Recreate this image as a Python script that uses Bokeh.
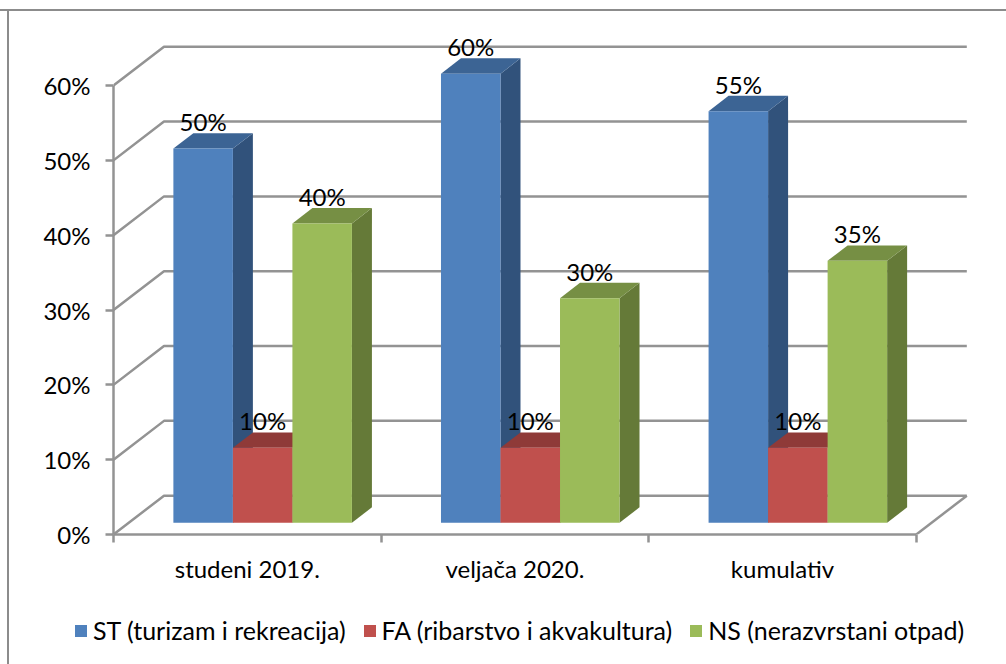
from bokeh.plotting import figure
from bokeh.embed import file_html
from bokeh.layouts import column
from bokeh.resources import INLINE
from bokeh.core.properties import value
from bokeh.models import Range1d, LinearAxis, FixedTicker, PrintfTickFormatter, Legend, LegendItem

categories = ["studeni 2019.", "veljača 2020.", "kumulativ"]
series_names = ["ST (turizam i rekreacija)", "FA (ribarstvo i akvakultura)", "NS (nerazvrstani otpad)"]
st_values = [50, 60, 55]
fa_values = [10, 10, 10]
ns_values = [40, 30, 35]
y_ticks = [0, 10, 20, 30, 40, 50, 60]

FONT = "Lato"
TICK_SIZE = "24px"
LEGEND_SIZE = "25px"
GRID = "#939393"
BORDER = "#8c8c8c"
FRONT = ["#4F81BD", "#C0504D", "#9BBB59"]
SIDE = ["#31527B", "#7E3331", "#657A38"]
TOP = ["#3C6494", "#8F3A38", "#768F44"]

W, H1, H2 = 1006, 600, 64
BL, BB = 113, 66
LW = 2.5
px_x, px_y = 267.6, 7.483
DX = 50.5 / px_x
DY = 38.8 / px_y
BAR = 0.2224
F0, F1 = 0.304, 0.70

p = figure(width=W, height=H1, output_backend="svg", toolbar_location=None,
           x_range=Range1d(0, (W - BL) / px_x), y_range=Range1d(0, (H1 - BB) / px_y),
           x_axis_type=None, y_axis_type=None, min_border_left=BL, min_border_right=0,
           min_border_top=0, min_border_bottom=BB, outline_line_color=None,
           background_fill_color=None, border_fill_color=None, frame_align=False)
p.grid.visible = False

yaxis = LinearAxis(ticker=FixedTicker(ticks=y_ticks), formatter=PrintfTickFormatter(format="%d%%"), bounds=(0, 60))
yaxis.axis_line_color = GRID
yaxis.axis_line_width = LW
yaxis.major_tick_line_color = GRID
yaxis.major_tick_line_width = LW
yaxis.major_tick_out = 8
yaxis.major_tick_in = 0
yaxis.minor_tick_line_color = None
yaxis.major_label_text_font = FONT
yaxis.major_label_text_font_size = TICK_SIZE
yaxis.major_label_text_color = "black"
yaxis.major_label_standoff = 15
p.add_layout(yaxis, "left")

n = len(categories)
centres = [i + 0.5 for i in range(n)]
xaxis = LinearAxis(ticker=FixedTicker(ticks=centres, minor_ticks=list(range(n + 1))), bounds=(0, n))
xaxis.major_label_overrides = {c: t for c, t in zip(centres, categories)}
xaxis.axis_line_color = GRID
xaxis.axis_line_width = LW
xaxis.major_tick_line_color = None
xaxis.minor_tick_line_color = GRID
xaxis.minor_tick_line_width = LW
xaxis.minor_tick_out = 8
xaxis.minor_tick_in = 0
xaxis.major_label_text_font = FONT
xaxis.major_label_text_font_size = TICK_SIZE
xaxis.major_label_text_color = "black"
xaxis.major_label_standoff = 11
p.add_layout(xaxis, "below")

# walls
for t in y_ticks:
    p.line([0, DX, n + DX], [t, t + DY, t + DY], line_color=GRID, line_width=LW)
p.line([n, n + DX], [0, DY], line_color=GRID, line_width=LW)

def pr(x, v, f):
    return x + f * DX, v + f * DY

groups = [st_values, fa_values, ns_values]
base = (1 - 3 * BAR) / 2
for j, vals in enumerate(groups):
    fx, fy, sx, sy, tx, ty = [], [], [], [], [], []
    for i, v in enumerate(vals):
        x0 = i + base + j * BAR
        x1 = x0 + BAR
        a = pr(x0, 0, F0); b = pr(x1, 0, F0); c = pr(x1, v, F0); d = pr(x0, v, F0)
        e = pr(x1, 0, F1); g = pr(x1, v, F1); h = pr(x0, v, F1)
        fx.append([a[0], b[0], c[0], d[0]]); fy.append([a[1], b[1], c[1], d[1]])
        sx.append([b[0], e[0], g[0], c[0]]); sy.append([b[1], e[1], g[1], c[1]])
        tx.append([d[0], c[0], g[0], h[0]]); ty.append([d[1], c[1], g[1], h[1]])
    p.patches(sx, sy, fill_color=SIDE[j], line_color=None)
    p.patches(tx, ty, fill_color=TOP[j], line_color=None)
    p.patches(fx, fy, fill_color=FRONT[j], line_color=None)

# data labels, drawn above every bar
for vals, j in zip(groups, range(3)):
    xs = [i + base + j * BAR + BAR / 2 + F0 * DX for i in range(n)]
    ys = [v + F0 * DY for v in vals]
    p.text(xs, ys, text=[f"{v}%" for v in vals], text_font=value(FONT), text_font_size=TICK_SIZE,
           text_color="black", text_align="center", text_baseline="middle", y_offset=-27)

# legend strip under the plot; its keys come from off-range quads
q = figure(width=W, height=H2, output_backend="svg", toolbar_location=None,
           x_range=Range1d(0, 1), y_range=Range1d(0, 1), x_axis_type=None, y_axis_type=None,
           min_border=0, outline_line_color=None, background_fill_color=None, border_fill_color=None,
           frame_align=False)
q.grid.visible = False
items = []
for j, name in enumerate(series_names):
    r = q.quad(left=[-2], right=[-1], top=[-1], bottom=[-2], fill_color=FRONT[j], line_color=None)
    items.append(LegendItem(label=name, renderers=[r]))
legend = Legend(items=items, orientation="horizontal", location=(73, 19), glyph_width=15, glyph_height=15,
                label_standoff=5, spacing=16, padding=0, margin=0, border_line_color=None,
                background_fill_alpha=0, label_text_font=FONT, label_text_font_size=LEGEND_SIZE,
                label_text_color="black")
q.add_layout(legend, "center")

page = column(p, q, spacing=0)
page.styles = {"background": f"linear-gradient({BORDER},{BORDER}) 0 9px / 100% 2px no-repeat, "
                             f"linear-gradient({BORDER},{BORDER}) 7px 9px / 2px 100% no-repeat"}

open("out.html", "w").write(file_html(page, INLINE))
